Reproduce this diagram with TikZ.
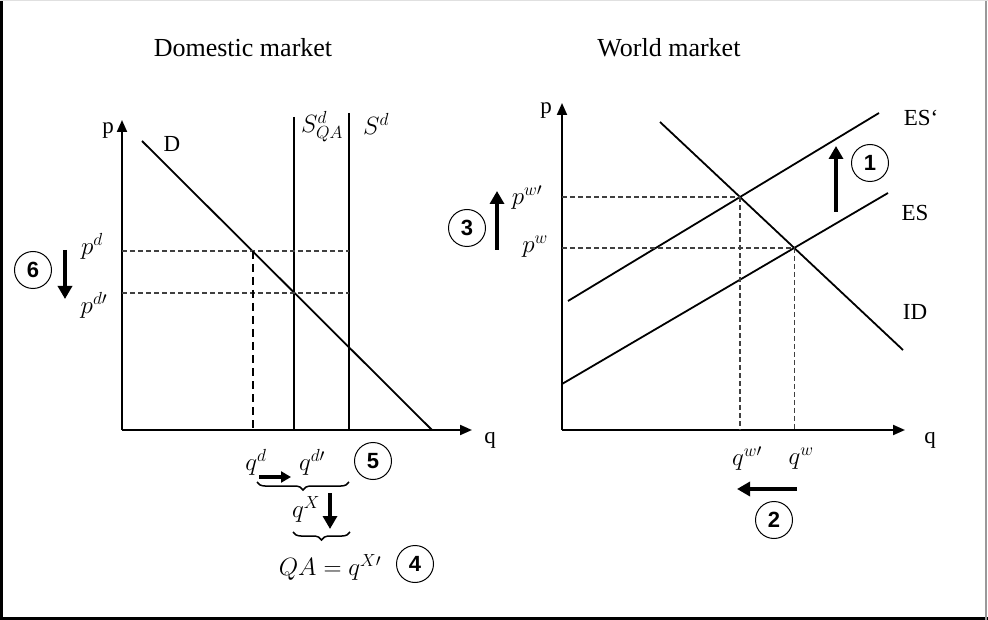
\RequirePackage{fix-cm}
\documentclass[tikz,border=0pt]{standalone}
\usepackage{fontspec}
\setmainfont{Liberation Serif}
\newfontfamily\numfont{Liberation Sans}
\usetikzlibrary{arrows.meta,decorations.pathreplacing}
\begin{document}
\begin{tikzpicture}[x=1pt,y=-1pt,
 axis/.style={line width=2pt,-{Triangle[length=12pt,width=10pt]}},
 curve/.style={line width=1.8pt},
 guide/.style={line width=1.3pt,dash pattern=on 5pt off 3pt,black!75},
 vguide/.style={line width=1.5pt,dash pattern=on 8pt off 5pt},
 bigarrow/.style={line width=4.5pt,-{Triangle[length=13pt,width=14pt]}},
 smallarrow/.style={line width=3.5pt,-{Triangle[length=10pt,width=11pt]}},
 num/.style={circle,draw,line width=1pt,minimum size=37pt,inner sep=0pt,font=\numfont\bfseries\fontsize{22}{24}\selectfont},
 ttl/.style={font=\fontsize{26}{30}\selectfont,inner sep=0pt},
 txt/.style={font=\fontsize{23}{26}\selectfont,inner sep=0pt},
 mlbl/.style={font=\fontsize{25}{28}\selectfont,inner sep=0pt},
 brc/.style={decorate,decoration={brace,mirror,amplitude=8pt},line width=1.5pt}
]
\path[use as bounding box] (0,0) rectangle (988,620);
% frame
\draw[line width=3pt] (1.5,0) -- (1.5,620);
\draw[line width=3pt] (0,618.5) -- (988,618.5);
\draw[line width=2pt,black!40] (986,0) -- (986,620);
\draw[line width=1pt,black!12] (0,0.5) -- (988,0.5);

% titles
\node[ttl] (t1) at (243,48) {Domestic market};
\node[ttl] (t2) at (669,48) {World market};

% ---------------- Domestic market ----------------
\coordinate (O1) at (122,430);
\coordinate (py1) at (122,120);
\coordinate (qx1) at (472,430);
\draw[axis] (O1) -- (py1);
\draw[axis] (O1) -- (qx1);
\node[txt] (plab1) at (108,131) {p};
\node[txt] (qlab1) at (490,440) {q};

\coordinate (D1) at (142,141);
\coordinate (D2) at (432,430);
\draw[curve] (D1) -- (D2);
\node[txt] (Dlab) at (172,144) {D};

\coordinate (SQAt) at (294,117);
\coordinate (SQAb) at (294,430);
\coordinate (Sdt) at (349,113);
\coordinate (Sdb) at (349,430);
\draw[curve] (SQAt) -- (SQAb);
\draw[curve] (Sdt) -- (Sdb);
\node[mlbl] (SQAlab) at (322,127) {$S^{d}_{QA}$};
\node[mlbl] (Sdlab) at (376,124) {$S^{d}$};

\coordinate (pdL) at (122,251);
\coordinate (pdR) at (349,251);
\coordinate (pd2L) at (122,293);
\coordinate (pd2R) at (349,293);
\coordinate (qdT) at (253,251);
\coordinate (qdB) at (253,430);
\draw[guide] (pdL) -- (pdR);
\draw[guide] (pd2L) -- (pd2R);
\draw[vguide] (qdT) -- (qdB);

\node[mlbl] (pdlab) at (92,246) {$p^{d}$};
\node[mlbl] (pd2lab) at (94,305) {$p^{d\prime}$};
\node[num] (n6) at (33,270) {6};
\coordinate (a6s) at (65,250);
\coordinate (a6e) at (65,299);
\draw[bigarrow] (a6s) -- (a6e);

\node[mlbl] (qdlab) at (256,462) {$q^{d}$};
\node[mlbl] (qd2lab) at (312,462) {$q^{d\prime}$};
\coordinate (a5s) at (259,477);
\coordinate (a5e) at (291,477);
\draw[smallarrow] (a5s) -- (a5e);
\node[num] (n5) at (373,461) {5};

\coordinate (b1s) at (257,482);
\coordinate (b1e) at (349,482);
\draw[brc] (b1s) -- (b1e);
\node[mlbl] (qXlab) at (306,509) {$q^{X}$};
\coordinate (a4s) at (330,493);
\coordinate (a4e) at (330,529);
\draw[bigarrow] (a4s) -- (a4e);
\coordinate (b2s) at (293,532);
\coordinate (b2e) at (350,532);
\draw[brc] (b2s) -- (b2e);
\node[mlbl] (QAlab) at (330,567) {$QA = q^{X\prime}$};
\node[num] (n4) at (415,564) {4};

% ---------------- World market ----------------
\coordinate (O2) at (562,430);
\coordinate (py2) at (562,103);
\coordinate (qx2) at (905,430);
\draw[axis] (O2) -- (py2);
\draw[axis] (O2) -- (qx2);
\node[txt] (plab2) at (546,111) {p};
\node[txt] (qlab2) at (930,440) {q};

\coordinate (ID1) at (660,122);
\coordinate (ID2) at (903,350);
\coordinate (ES1) at (562,384);
\coordinate (ES2) at (888,193);
\coordinate (ESp1) at (568,301);
\coordinate (ESp2) at (879,113);
\draw[curve] (ID1) -- (ID2);
\draw[curve] (ES1) -- (ES2);
\draw[curve] (ESp1) -- (ESp2);
\node[txt] (ESplab) at (921,118) {ES‘};
\node[txt] (ESlab) at (915,213) {ES};
\node[txt] (IDlab) at (915,312) {ID};

\coordinate (I1) at (intersection of ID1--ID2 and ESp1--ESp2);
\coordinate (I2) at (intersection of ID1--ID2 and ES1--ES2);
\draw[guide] (O2 |- I1) -- (I1);
\draw[guide] (O2 |- I2) -- (I2);
\draw[guide] (I1) -- (I1 |- O2);
\draw[guide] (I2) -- (I2 |- O2);

\node[num] (n1) at (870,163) {1};
\coordinate (a1s) at (836,212);
\coordinate (a1e) at (836,146);
\draw[bigarrow] (a1s) -- (a1e);

\node[num] (n3) at (467,228) {3};
\coordinate (a3s) at (497,250);
\coordinate (a3e) at (497,191);
\draw[bigarrow] (a3s) -- (a3e);
\node[mlbl] (pw2lab) at (527,198) {$p^{w\prime}$};
\node[mlbl] (pwlab) at (535,247) {$p^{w}$};

\node[mlbl] (qw2lab) at (747,459) {$q^{w\prime}$};
\node[mlbl] (qwlab) at (801,459) {$q^{w}$};
\coordinate (a2s) at (797,489);
\coordinate (a2e) at (737,489);
\draw[bigarrow] (a2s) -- (a2e);
\node[num] (n2) at (774,520) {2};
\end{tikzpicture}
\end{document}
